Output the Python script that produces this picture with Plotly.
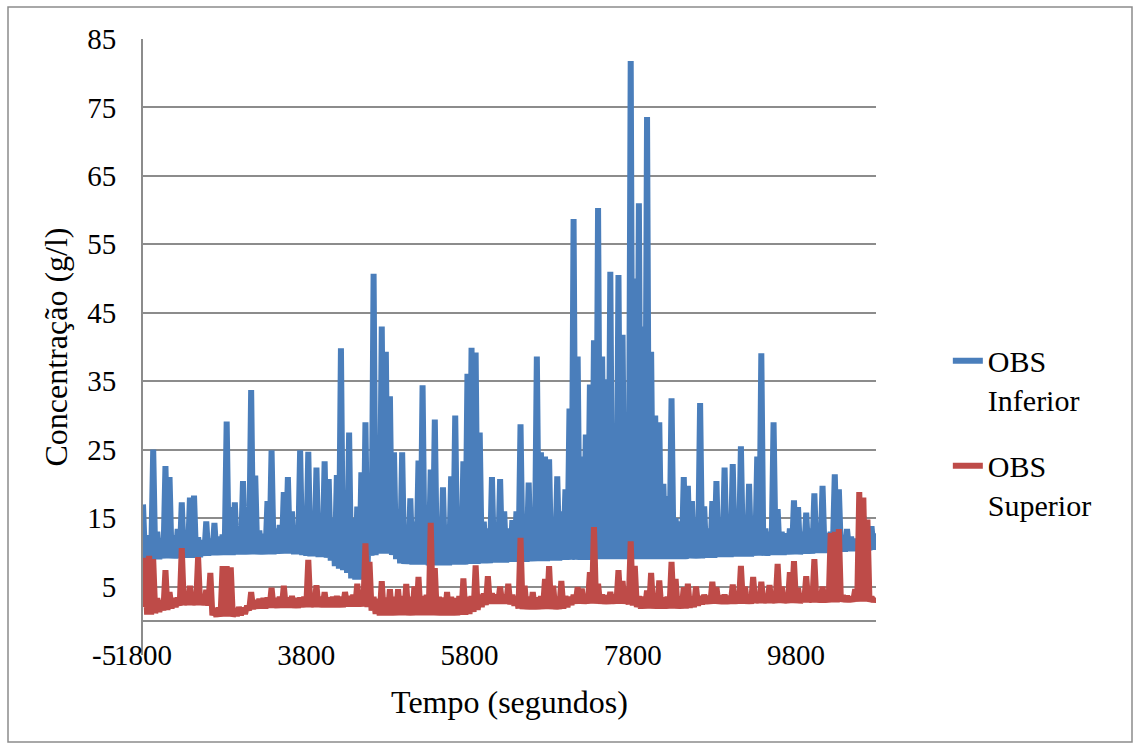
import plotly.graph_objects as go

# sampling times (s), one reading every 25 s
tempo = list(range(1800, 10800, 25))

obs_inferior = [
    17.0, 9.0, 9.0, 12.5, 9.0, 25.0, 9.0, 13.0, 9.0, 12.0, 9.1, 22.6, 9.1, 21.0, 9.1, 12.5, 9.1, 13.4, 9.2, 17.3,
    9.2, 12.8, 9.2, 18.0, 9.2, 18.3, 9.3, 12.2, 9.3, 11.8, 9.5, 14.5, 9.5, 12.0, 9.6, 14.3, 9.6, 12.3, 9.6, 12.6,
    9.6, 29.1, 9.6, 16.6, 9.6, 17.3, 9.7, 12.8, 9.7, 20.4, 9.7, 13.0, 9.7, 33.7, 9.7, 21.2, 9.7, 13.2, 9.7, 12.7,
    9.7, 17.5, 9.7, 24.9, 9.7, 13.5, 9.8, 14.0, 9.8, 18.8, 9.8, 21.0, 9.8, 16.0, 9.7, 13.5, 9.7, 24.9, 9.6, 14.0,
    9.5, 24.7, 9.4, 14.5, 9.4, 22.4, 9.3, 14.0, 9.3, 23.3, 9.2, 20.7, 8.8, 15.0, 8.0, 21.3, 7.6, 39.8, 7.4, 15.6,
    7.0, 27.5, 6.2, 15.0, 6.0, 16.7, 6.0, 21.7, 6.3, 29.0, 7.5, 17.0, 9.5, 50.7, 9.6, 22.6, 9.8, 43.0, 9.8, 39.3,
    9.8, 32.8, 9.6, 24.6, 9.0, 15.5, 8.4, 24.6, 8.3, 14.0, 8.3, 17.9, 8.2, 14.5, 8.2, 23.4, 8.2, 34.4, 8.2, 15.0,
    8.1, 22.1, 8.1, 29.4, 8.1, 15.0, 8.1, 19.5, 8.1, 14.0, 8.1, 21.1, 8.2, 30.0, 8.2, 16.0, 8.2, 23.3, 8.2, 36.1,
    8.3, 39.9, 8.3, 39.2, 8.3, 27.5, 8.4, 14.5, 8.4, 13.5, 8.4, 21.0, 8.5, 14.0, 8.5, 20.7, 8.5, 16.0, 8.5, 13.5,
    8.6, 14.7, 8.6, 16.0, 8.6, 28.7, 8.6, 14.0, 8.6, 20.2, 8.7, 14.5, 8.7, 38.6, 8.7, 24.6, 8.7, 24.0, 8.7, 23.6,
    8.8, 14.0, 8.8, 21.1, 8.8, 16.0, 8.9, 19.2, 8.9, 31.0, 8.9, 58.7, 8.9, 38.6, 8.9, 24.0, 8.9, 27.2, 8.9, 34.5,
    9.0, 41.0, 9.0, 60.3, 9.0, 38.6, 9.0, 35.3, 9.0, 51.0, 9.0, 24.3, 9.0, 50.5, 9.0, 41.8, 9.0, 27.0, 9.0, 81.8,
    9.0, 50.0, 9.0, 61.0, 9.0, 43.0, 9.0, 73.6, 9.0, 39.3, 9.0, 30.0, 9.0, 29.0, 9.0, 20.0, 9.0, 18.2, 9.0, 32.5,
    9.0, 15.0, 9.0, 14.5, 9.0, 21.0, 9.0, 19.7, 9.1, 17.5, 9.1, 14.0, 9.1, 31.8, 9.1, 16.7, 9.2, 13.5, 9.2, 17.5,
    9.2, 20.4, 9.3, 14.0, 9.3, 22.4, 9.3, 14.5, 9.3, 22.9, 9.4, 14.0, 9.4, 25.5, 9.4, 13.5, 9.4, 20.0, 9.4, 13.0,
    9.5, 24.0, 9.5, 39.1, 9.5, 13.5, 9.5, 13.0, 9.6, 29.0, 9.6, 16.3, 9.6, 13.0, 9.6, 12.8, 9.7, 13.5, 9.7, 17.6,
    9.7, 16.6, 9.7, 13.0, 9.8, 15.8, 9.8, 13.5, 9.8, 18.6, 9.9, 13.2, 9.9, 19.7, 9.9, 12.8, 9.9, 13.0, 10.0, 21.4,
    10.0, 19.2, 10.1, 12.5, 10.1, 13.4, 10.2, 12.3, 10.2, 12.0, 10.2, 12.4, 10.3, 15.3, 10.3, 12.2, 10.3, 13.8, 10.4, 12.8,
]

obs_superior = [
    2.0, 9.2, 0.9, 9.5, 0.9, 9.0, 1.1, 3.3, 1.3, 3.0, 1.5, 7.4, 1.6, 4.2, 1.8, 3.3, 2.0, 3.4, 2.2, 10.6,
    2.3, 3.5, 2.3, 5.1, 2.3, 3.6, 2.3, 9.3, 2.3, 3.5, 2.3, 4.5, 2.2, 7.0, 0.8, 1.8, 0.6, 1.9, 0.6, 8.0,
    0.6, 8.0, 0.6, 7.8, 0.6, 1.8, 0.7, 2.0, 0.8, 1.9, 1.0, 2.2, 1.5, 4.2, 1.7, 3.0, 1.8, 3.2, 1.8, 3.3,
    1.8, 3.4, 1.9, 4.8, 1.9, 3.3, 1.9, 3.5, 1.9, 5.1, 1.9, 3.4, 1.9, 3.6, 1.9, 3.3, 1.9, 3.4, 2.0, 3.5,
    2.0, 8.9, 2.0, 3.4, 2.0, 5.2, 2.0, 3.5, 2.0, 4.2, 2.0, 3.4, 2.0, 3.5, 2.0, 3.6, 2.0, 3.5, 2.0, 4.2,
    2.1, 3.6, 2.1, 3.8, 2.1, 5.4, 2.1, 3.8, 2.1, 11.3, 2.0, 8.6, 1.5, 3.5, 1.0, 3.2, 0.8, 5.8, 0.8, 3.4,
    0.8, 4.6, 0.8, 3.5, 0.8, 4.6, 0.8, 3.6, 0.8, 5.4, 0.8, 3.5, 0.8, 5.0, 0.8, 6.4, 0.8, 3.6, 0.8, 3.8,
    0.8, 14.3, 0.8, 7.7, 0.8, 3.5, 0.8, 3.4, 0.8, 4.2, 0.8, 3.5, 0.8, 3.3, 0.8, 3.6, 0.9, 6.2, 0.9, 3.5,
    1.0, 3.6, 1.3, 8.1, 1.6, 3.8, 2.0, 4.0, 2.3, 6.5, 2.5, 4.0, 2.5, 3.8, 2.5, 5.0, 2.5, 3.8, 2.5, 5.4,
    2.4, 3.8, 2.2, 3.6, 1.8, 12.1, 1.7, 5.1, 1.7, 3.5, 1.7, 4.2, 1.7, 3.4, 1.7, 3.6, 1.7, 6.1, 1.7, 8.0,
    1.7, 5.1, 1.7, 3.5, 1.7, 5.8, 1.8, 3.6, 2.0, 3.5, 2.3, 3.8, 2.5, 4.9, 2.5, 4.7, 2.5, 3.8, 2.5, 7.1,
    2.5, 13.7, 2.5, 5.4, 2.5, 3.8, 2.5, 3.7, 2.5, 4.2, 2.5, 3.8, 2.5, 7.4, 2.5, 5.8, 2.5, 3.8, 2.4, 11.6,
    2.2, 8.0, 2.0, 3.6, 1.8, 3.5, 1.8, 4.4, 1.8, 7.0, 1.8, 3.5, 1.8, 5.9, 1.8, 3.4, 1.8, 3.5, 1.8, 8.6,
    1.8, 6.1, 1.8, 3.5, 1.8, 4.9, 1.8, 5.4, 1.9, 3.5, 2.0, 5.0, 2.2, 3.6, 2.4, 3.8, 2.5, 3.6, 2.5, 5.7,
    2.5, 4.9, 2.5, 3.7, 2.5, 3.8, 2.5, 3.6, 2.5, 5.3, 2.5, 3.8, 2.5, 8.0, 2.5, 5.0, 2.5, 3.8, 2.5, 6.4,
    2.6, 3.8, 2.6, 5.7, 2.6, 3.7, 2.6, 5.2, 2.6, 3.8, 2.6, 8.3, 2.6, 5.0, 2.6, 3.7, 2.6, 7.1, 2.6, 8.7,
    2.6, 4.8, 2.6, 3.8, 2.7, 6.5, 2.7, 3.8, 2.7, 9.0, 2.7, 3.9, 2.7, 5.0, 2.7, 3.8, 2.7, 12.8, 2.7, 13.0,
    2.7, 13.4, 2.8, 3.7, 2.8, 3.6, 2.8, 3.5, 2.8, 4.6, 2.8, 18.8, 2.8, 18.0, 2.8, 14.8, 2.8, 3.5, 2.8, 3.4,
]

y_ticks = [-5, 5, 15, 25, 35, 45, 55, 65, 75, 85]
x_ticks = [1800, 3800, 5800, 7800, 9800]

BLUE = "#4A7EBB"
RED = "#BE4B48"
GRID = "#8C8C8C"
FONT = "Liberation Serif"

fig = go.Figure()
fig.add_trace(go.Scatter(
    x=tempo, y=obs_inferior, mode="lines", name="OBS<br>Inferior",
    line=dict(color=BLUE, width=6), legendgroup="inf"))
fig.add_trace(go.Scatter(
    x=tempo, y=obs_superior, mode="lines", name="OBS<br>Superior",
    line=dict(color=RED, width=6), legendgroup="sup"))

fig.update_layout(
    width=1134, height=744,
    margin=dict(l=143, r=258, t=39, b=89, autoexpand=False),
    paper_bgcolor="white", plot_bgcolor="white",
    font=dict(family=FONT, size=29, color="black"),
    showlegend=True,
    legend=dict(
        x=1.098, xanchor="left", y=0.52, yanchor="top",
        font=dict(family=FONT, size=30, color="black"),
        traceorder="grouped", tracegroupgap=24, valign="top",
        bgcolor="rgba(0,0,0,0)",
    ),
    xaxis=dict(
        range=[1800, 10780], tickmode="array", tickvals=x_ticks,
        ticktext=[str(v) for v in x_ticks],
        showgrid=False, zeroline=False, showline=False, ticks="",
        ticklabelstandoff=-20,
        tickfont=dict(family=FONT, size=29, color="black"),
        title=dict(text="Tempo (segundos)", standoff=20,
                   font=dict(family=FONT, size=32, color="black")),
        automargin=False,
    ),
    yaxis=dict(
        range=[-5, 85], tickmode="array", tickvals=y_ticks,
        ticktext=[str(v) for v in y_ticks],
        showgrid=True, gridcolor=GRID, gridwidth=2,
        zeroline=True, zerolinecolor=GRID, zerolinewidth=2,
        showline=True, linecolor=GRID, linewidth=2, ticks="",
        ticklabelstandoff=19,
        tickfont=dict(family=FONT, size=29, color="black"),
        title=dict(text="Concentração (g/l)", standoff=10,
                   font=dict(family=FONT, size=32, color="black")),
        automargin=False,
    ),
    shapes=[dict(
        type="rect", xref="paper", yref="paper",
        x0=(8 - 143) / 733, x1=(1132 - 143) / 733,
        y0=(655 - 742) / 616, y1=(655 - 7) / 616,
        line=dict(color=GRID, width=1.5), fillcolor="rgba(0,0,0,0)",
        layer="below",
    )],
)

fig.write_html("out.html")
